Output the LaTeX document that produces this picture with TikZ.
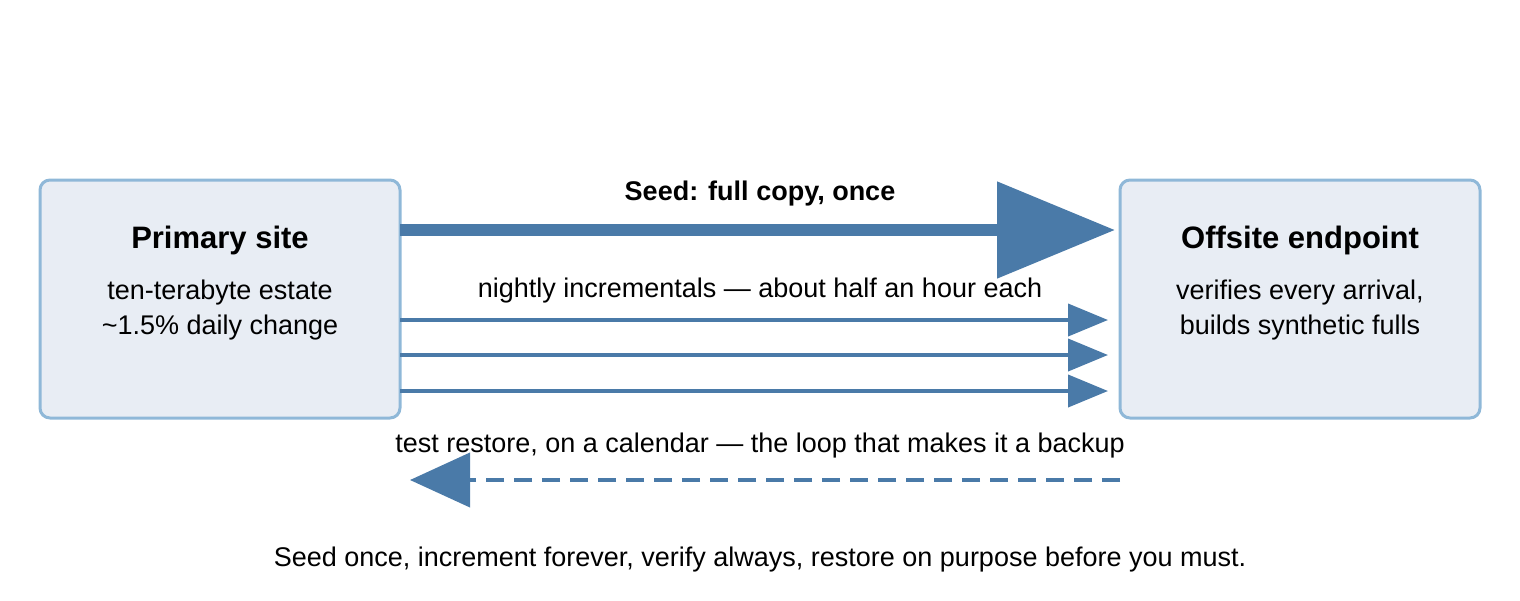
\documentclass[tikz,border=0pt]{standalone}
\usepackage{fontspec}
\setmainfont{Liberation Sans}
\usetikzlibrary{arrows.meta}
\definecolor{ac}{HTML}{4A7AA8}
\definecolor{bx}{HTML}{E8EDF4}
\definecolor{bd}{HTML}{8FB8D8}
\begin{document}
\begin{tikzpicture}[x=1pt,y=-1pt,
  box/.style={draw=bd,fill=bx,line width=3pt,rounded corners=10pt,minimum width=360pt,minimum height=238pt,inner sep=0pt},
  ttl/.style={font=\fontsize{31}{34}\selectfont\bfseries},
  sub/.style={font=\fontsize{27}{35}\selectfont,align=center},
  thin/.style={ac,line width=4pt,-{Triangle[length=40pt,width=32pt]}}]
\useasboundingbox (0,0) rectangle (1520,600);
\node[box] (L) at (220,299) {};
\node[box] (R) at (1300,299) {};
\node[ttl] (Lt) at (220,240) {Primary site};
\node[sub] (Ls) at (220,310) {ten-terabyte estate\\\textasciitilde1.5\% daily change};
\node[ttl] (Rt) at (1300,240) {Offsite endpoint};
\node[sub] (Rs) at (1300,310) {verifies every arrival,\\builds synthetic fulls};
\coordinate (s1) at (400,230); \coordinate (e1) at (1115,230);
\draw[ac,line width=12pt,-{Triangle[length=118pt,width=94pt]}] (s1) -- (e1);
\node[font=\fontsize{27}{30}\selectfont\bfseries] (seed) at (760,194) {Seed: full copy, once};
\node[sub] (nl) at (760,291) {nightly incrementals — about half an hour each};
\foreach \y/\n in {320/a,355/b,391/c}{
  \coordinate (s\n) at (400,\y); \coordinate (e\n) at (1108,\y);
  \draw[thin] (s\n) -- (e\n);}
\node[sub] (tr) at (760,446) {test restore, on a calendar — the loop that makes it a backup};
\coordinate (ds) at (1120,480); \coordinate (de) at (410,480);
\draw[ac,line width=4pt,dash pattern=on 18pt off 10pt,-{Triangle[length=60pt,width=54pt]}] (ds) -- (de);
\node[sub] (cap) at (760,560) {Seed once, increment forever, verify always, restore on purpose before you must.};
\end{tikzpicture}
\end{document}
